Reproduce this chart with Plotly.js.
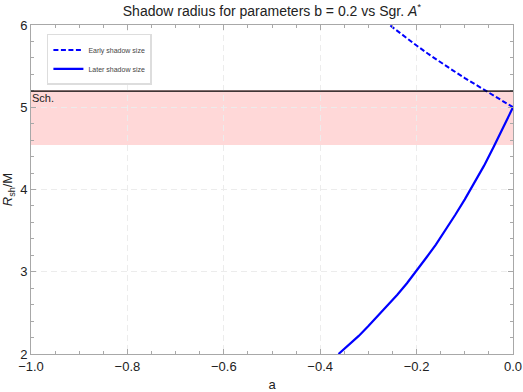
<!DOCTYPE html>
<html>
<head>
<meta charset="utf-8">
<script src="https://cdn.plot.ly/plotly-3.0.1.min.js"></script>
<style>
  html, body { margin: 0; padding: 0; background: #fff; }
  #plotArea { width: 523px; height: 392px; }
</style>
</head>
<body>
<div id="plotArea"></div>
<script>
// early shadow size (dashed)
var aEarly = [0, -0.025, -0.05, -0.075, -0.1, -0.125, -0.15, -0.175, -0.2, -0.225, -0.25, -0.256];
var rEarly = [5.0, 5.087, 5.175, 5.264, 5.355, 5.449, 5.545, 5.645, 5.75, 5.86, 5.975, 6.0];

// later shadow size (solid)
var aLater = [0, -0.02, -0.04, -0.06, -0.08, -0.10, -0.12, -0.14, -0.16, -0.18, -0.20,
              -0.22, -0.24, -0.26, -0.28, -0.30, -0.32, -0.34, -0.362];
var rLater = [5.0, 4.75, 4.52, 4.29, 4.08, 3.88, 3.69, 3.51, 3.33, 3.17, 3.01,
              2.86, 2.72, 2.59, 2.46, 2.34, 2.22, 2.11, 2.0];

// Sgr A* band and Schwarzschild value
var bandLow = 4.54;
var bandHigh = 5.21;
var schR = 5.196;

var trace1 = {
  x: aEarly,
  y: rEarly,
  mode: 'lines',
  type: 'scatter',
  name: 'Early shadow size',
  line: { color: '#0000ff', width: 2, dash: '5px,2.5px' }
};

var trace2 = {
  x: aLater,
  y: rLater,
  mode: 'lines',
  type: 'scatter',
  name: 'Later shadow size',
  line: { color: '#0000ff', width: 2.2 }
};

var axisStyle = {
  showline: true,
  mirror: 'ticks',
  linecolor: '#a8a8a8',
  linewidth: 1,
  ticks: 'inside',
  ticklen: 5,
  tickcolor: '#a8a8a8',
  showgrid: true,
  gridcolor: '#ececec',
  griddash: '6px,4px',
  zeroline: false,
  tickfont: { family: 'Liberation Sans, Arial, sans-serif', size: 13, color: '#222' }
};

var layout = {
  width: 523,
  height: 392,
  margin: { l: 31, r: 10, t: 25, b: 38 },
  paper_bgcolor: '#fff',
  plot_bgcolor: '#fff',
  font: { family: 'Liberation Sans, Arial, sans-serif', color: '#222' },
  title: {
    text: 'Shadow radius for parameters b = 0.2 vs Sgr. <i>A</i><sup>*</sup>',
    font: { size: 14 },
    x: 0.52, xanchor: 'center', y: 0.985, yanchor: 'top'
  },
  xaxis: Object.assign({}, axisStyle, {
    range: [-1, 0],
    tickvals: [-1, -0.8, -0.6, -0.4, -0.2, 0],
    ticktext: ['\u22121.0', '\u22120.8', '\u22120.6', '\u22120.4', '\u22120.2', '0.0'],
    minor: { dtick: 0.05, ticks: 'inside', ticklen: 3, tickcolor: '#a8a8a8', showgrid: false },
    title: { text: 'a', font: { size: 13 }, standoff: 10 }
  }),
  yaxis: Object.assign({}, axisStyle, {
    range: [2, 6],
    dtick: 1,
    minor: { dtick: 0.2, ticks: 'inside', ticklen: 3, tickcolor: '#a8a8a8', showgrid: false },
    title: { text: '<i>R</i><sub>sh</sub>/M', font: { size: 13 }, standoff: 6 }
  }),
  shapes: [
    { type: 'rect', xref: 'x', yref: 'y', x0: -1, x1: 0, y0: bandLow, y1: bandHigh,
      fillcolor: '#ffd8d8', line: { width: 0 }, layer: 'below' },
    { type: 'line', xref: 'x', yref: 'y', x0: -1, x1: 0, y0: schR, y1: schR,
      line: { color: '#000', width: 1.1 } }
  ],
  annotations: [
    { text: 'Sch.', xref: 'x', yref: 'y', x: -1, y: schR, xanchor: 'left', yanchor: 'top',
      showarrow: false, font: { size: 11, color: '#222' }, xshift: -1, yshift: 1 }
  ],
  legend: {
    x: 0.033, y: 0.973, xanchor: 'left', yanchor: 'top',
    bgcolor: '#fff', bordercolor: '#ddd', borderwidth: 1.5,
    font: { size: 7, color: '#444' },
    tracegroupgap: 0
  },
  showlegend: true
};

Plotly.newPlot('plotArea', [trace1, trace2], layout, { displayModeBar: false, staticPlot: true });
</script>
</body>
</html>
